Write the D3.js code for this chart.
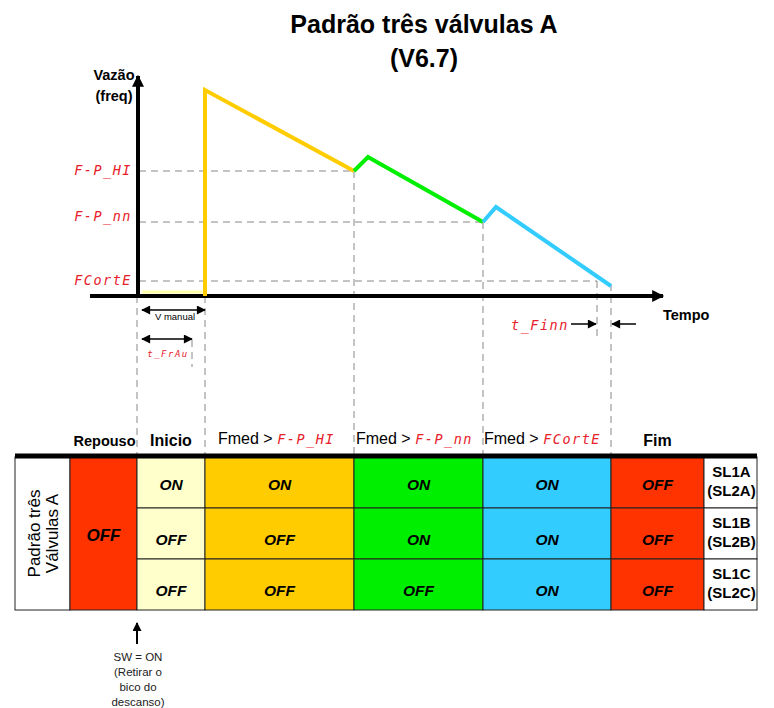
<!DOCTYPE html>
<html><head><meta charset="utf-8">
<script src="https://cdn.jsdelivr.net/npm/d3@7"></script>
<style>
html,body{margin:0;padding:0;background:#fff;}
text{font-family:"Liberation Sans",Arial,sans-serif;}
.seg{font-family:"DejaVu Sans Mono",monospace;font-style:italic;fill:#e8202a;letter-spacing:1.5px;}
</style></head>
<body>
<svg id="c" width="774" height="708"></svg>
<script>
// ---------- data ----------
const titleLines = ["Padrão três válvulas A", "(V6.7)"];
// flow curve segments: [time, flow]
const yellowIdle = [[4, 4], [67, 4]];
const yellowSeg = [[67, 0], [67, 206], [216, 125]];
const greenSeg = [[216, 125], [230, 139], [345, 74]];
const blueSeg = [[345, 74], [358, 89], [473, 10]];
const thresholds = [
  {label: "F-P_HI", value: 125, until: 216},
  {label: "F-P_nn", value: 74, until: 345},
  {label: "FCortE", value: 15, until: 459}
];
const phaseBounds = [-68, -1, 67, 216, 345, 473, 566, 619];
const phaseHeaders = [
  {pre: "", label: "Repouso", seg: ""},
  {pre: "", label: "Inicio", seg: ""},
  {pre: "Fmed > ", label: "", seg: "F-P_HI"},
  {pre: "Fmed > ", label: "", seg: "F-P_nn"},
  {pre: "Fmed > ", label: "", seg: "FCortE"},
  {pre: "", label: "Fim", seg: ""}
];
const phaseColors = ["#ff3300", "#ffffcc", "#ffcc00", "#00ee00", "#33ccff", "#ff3300"];
const valves = [["SL1A", "(SL2A)"], ["SL1B", "(SL2B)"], ["SL1C", "(SL2C)"]];
const states = [
  ["OFF", "ON", "ON", "ON", "ON", "OFF"],
  ["OFF", "OFF", "OFF", "ON", "ON", "OFF"],
  ["OFF", "OFF", "OFF", "OFF", "ON", "OFF"]
];
const noteLines = ["SW = ON", "(Retirar o", "bico do", "descanso)"];

// ---------- scales ----------
const x = d3.scaleLinear().domain([0, 100]).range([138, 238]);
const y = d3.scaleLinear().domain([0, 100]).range([296, 196]);
const svg = d3.select("#c");

const defs = svg.append("defs");
function marker(id, w, h) {
  defs.append("marker").attr("id", id).attr("viewBox", "0 0 10 10").attr("refX", 9).attr("refY", 5)
    .attr("markerWidth", w).attr("markerHeight", h).attr("markerUnits", "userSpaceOnUse").attr("orient", "auto-start-reverse")
    .append("path").attr("d", "M0,0L10,5L0,10z").attr("fill", "#000");
}
marker("big", 14, 12);
marker("small", 11, 9);

// title
svg.selectAll(".title").data(titleLines).join("text")
  .attr("x", 424).attr("y", (d, i) => 33 + i * 34).attr("text-anchor", "middle")
  .attr("font-size", 25).attr("font-weight", "bold").text(d => d);

// dashed guides
const dash = "7,5";
const g = svg.append("g").attr("stroke", "#888").attr("stroke-width", 1).attr("stroke-dasharray", dash).attr("fill", "none");
thresholds.forEach(t => {
  g.append("line").attr("x1", x(1)).attr("x2", x(t.until)).attr("y1", y(t.value)).attr("y2", y(t.value));
});
const vStarts = [[-1, 0], [67, 0], [216, 125], [345, 74], [473, 12]];
vStarts.forEach(([t, v]) => {
  g.append("line").attr("x1", x(t)).attr("x2", x(t)).attr("y1", y(v)).attr("y2", 455);
});
g.append("line").attr("x1", x(459)).attr("x2", x(459)).attr("y1", y(15)).attr("y2", 340);
g.append("line").attr("x1", x(54)).attr("x2", x(54)).attr("y1", 340).attr("y2", 367);

// axes
svg.append("line").attr("x1", x(0)).attr("x2", x(0)).attr("y1", y(0) + 2).attr("y2", 76)
  .attr("stroke", "#000").attr("stroke-width", 4).attr("marker-end", "url(#big)");
svg.append("line").attr("x1", 90).attr("x2", 663).attr("y1", y(0)).attr("y2", y(0))
  .attr("stroke", "#000").attr("stroke-width", 4).attr("marker-end", "url(#big)");
svg.append("text").attr("x", 114).attr("y", 80).attr("text-anchor", "middle").attr("font-size", 14.5).attr("font-weight", "bold").text("Vazão");
svg.append("text").attr("x", 114).attr("y", 101).attr("text-anchor", "middle").attr("font-size", 14.5).attr("font-weight", "bold").text("(freq)");
svg.append("text").attr("x", 663).attr("y", 320).attr("font-size", 14.5).attr("font-weight", "bold").text("Tempo");

// threshold labels
svg.selectAll(".thr").data(thresholds).join("text").attr("class", "seg")
  .attr("x", 132).attr("y", (d, i) => y(d.value) + (i === 1 ? -1 : 4)).attr("text-anchor", "end")
  .attr("font-size", 13.5).text(d => d.label);

// curve
const line = d3.line().x(d => x(d[0])).y(d => y(d[1]));
svg.append("path").attr("d", line(yellowIdle)).attr("stroke", "#ffffaa").attr("stroke-width", 3).attr("fill", "none");
[[yellowSeg, "#ffcc00"], [greenSeg, "#00ee00"], [blueSeg, "#33ccff"]].forEach(([d, c]) => {
  svg.append("path").attr("d", line(d)).attr("stroke", c).attr("stroke-width", 4).attr("fill", "none").attr("stroke-linejoin", "miter");
});

// V manual / t_FrAu arrows
svg.append("line").attr("x1", x(4)).attr("x2", x(67)).attr("y1", 310).attr("y2", 310).attr("stroke", "#000").attr("stroke-width", 1.5)
  .attr("marker-start", "url(#small)").attr("marker-end", "url(#small)");
svg.append("text").attr("x", 175).attr("y", 320).attr("text-anchor", "middle").attr("font-size", 9.5).text("V manual");
svg.append("line").attr("x1", x(4)).attr("x2", x(54)).attr("y1", 339).attr("y2", 339).attr("stroke", "#000").attr("stroke-width", 1.5)
  .attr("marker-start", "url(#small)").attr("marker-end", "url(#small)");
svg.append("text").attr("class", "seg").attr("x", 168).attr("y", 357).attr("text-anchor", "middle").attr("font-size", 9).text("t_FrAu");

// t_Finn
svg.append("text").attr("class", "seg").attr("x", 540).attr("y", 330).attr("text-anchor", "middle").attr("font-size", 13.5).text("t_Finn");
svg.append("line").attr("x1", 571).attr("x2", x(459) - 1).attr("y1", 324).attr("y2", 324).attr("stroke", "#000").attr("stroke-width", 1.5).attr("marker-end", "url(#small)");
svg.append("line").attr("x1", 636).attr("x2", x(473) + 1).attr("y1", 324).attr("y2", 324).attr("stroke", "#000").attr("stroke-width", 1.5).attr("marker-end", "url(#small)");

// table
const tTop = 457, rowH = 51, nRows = 3, tBottom = tTop + rowH * nRows;
const colX = phaseBounds.map(b => x(b));
const table = svg.append("g");
table.append("rect").attr("x", 15).attr("y", tTop).attr("width", colX[0] - 15).attr("height", tBottom - tTop).attr("fill", "#fff").attr("stroke", "#222");
const rl = table.append("text").attr("transform", `translate(43,${(tTop + tBottom) / 2}) rotate(-90)`).attr("text-anchor", "middle").attr("font-size", 17);
rl.append("tspan").attr("x", 0).attr("dy", "-0.2em").text("Padrão três");
rl.append("tspan").attr("x", 0).attr("dy", "1.1em").text("Válvulas A");
table.append("rect").attr("x", colX[0]).attr("y", tTop).attr("width", colX[1] - colX[0]).attr("height", tBottom - tTop).attr("fill", phaseColors[0]).attr("stroke", "#222");
table.append("text").attr("x", (colX[0] + colX[1]) / 2).attr("y", 541).attr("text-anchor", "middle").attr("font-size", 17).attr("font-weight", "bold").attr("font-style", "italic").text(states[0][0]);
for (let r = 0; r < nRows; r++) {
  for (let c = 1; c < phaseColors.length; c++) {
    table.append("rect").attr("x", colX[c]).attr("y", tTop + r * rowH).attr("width", colX[c + 1] - colX[c]).attr("height", rowH)
      .attr("fill", phaseColors[c]).attr("stroke", "#222");
    table.append("text").attr("x", (colX[c] + colX[c + 1]) / 2).attr("y", tTop + r * rowH + rowH / 2 + (r === 0 ? 1 : 5) + 6)
      .attr("text-anchor", "middle").attr("font-size", 15.5).attr("font-weight", "bold").attr("font-style", "italic").text(states[r][c]);
  }
  const c = phaseColors.length;
  table.append("rect").attr("x", colX[c]).attr("y", tTop + r * rowH).attr("width", 757 - colX[c]).attr("height", rowH).attr("fill", "#fff").attr("stroke", "#222");
  valves[r].forEach((s, i) => {
    table.append("text").attr("x", (colX[c] + 757) / 2 + 1).attr("y", tTop + r * rowH + 20 + i * 19).attr("text-anchor", "middle")
      .attr("font-size", 15).attr("font-weight", "bold").text(s);
  });
}
table.append("line").attr("x1", 15).attr("x2", 757).attr("y1", tTop - 1).attr("y2", tTop - 1).attr("stroke", "#000").attr("stroke-width", 5);

// headers
phaseHeaders.forEach((h, i) => {
  const cx = (colX[i] + colX[i + 1]) / 2;
  if (h.label) {
    svg.append("text").attr("x", cx + (i === 0 ? 1 : 0)).attr("y", 446).attr("text-anchor", "middle")
      .attr("font-size", i === 0 ? 14.5 : 16).attr("font-weight", "bold").text(h.label);
  } else {
    const t = svg.append("text").attr("x", colX[i] + 13 - (i === 3 ? 11 : 0) - (i === 4 ? 12 : 0)).attr("y", 444).attr("font-size", 16);
    t.append("tspan").text(h.pre);
    t.append("tspan").attr("class", "seg").attr("font-size", 13.5).text(h.seg);
  }
});

// bottom note
svg.append("line").attr("x1", 137).attr("x2", 137).attr("y1", 644).attr("y2", 623).attr("stroke", "#000").attr("stroke-width", 2).attr("marker-end", "url(#small)");
svg.selectAll(".note").data(noteLines).join("text").attr("x", 138).attr("y", (d, i) => 661 + i * 15)
  .attr("text-anchor", "middle").attr("font-size", 11.5).attr("fill", "#222").text(d => d);
</script>
</body></html>
